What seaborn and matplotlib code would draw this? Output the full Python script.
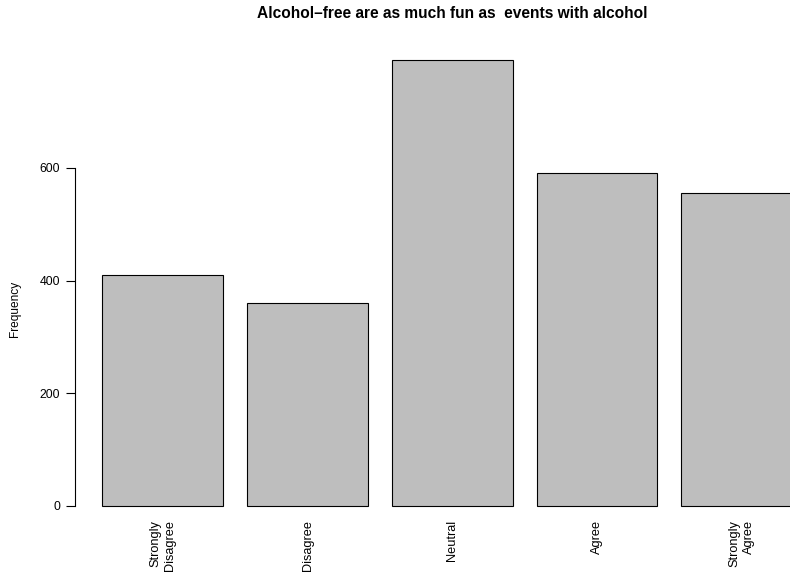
import matplotlib
matplotlib.use("Agg")
import matplotlib.pyplot as plt
import seaborn as sns

# Survey answers and their counts
categories = ["Strongly\nDisagree", "Disagree", "Neutral", "Agree", "Strongly\nAgree"]
counts = [410, 360, 791, 591, 555]
yticks = [0, 200, 400, 600]

sns.set_style("white")
plt.rcParams["font.family"] = ["Liberation Sans", "DejaVu Sans"]
plt.rcParams["text.color"] = "black"
plt.rcParams["xtick.color"] = "black"
plt.rcParams["ytick.color"] = "black"

fig = plt.figure(figsize=(7.9, 5.84), dpi=100)
# plot region in pixels: x 74.5..830, y 42..523.8 (R style, runs off the right edge)
ax = fig.add_axes([74.5 / 790, (584 - 523.8) / 584, (830 - 74.5) / 790, (523.8 - 42) / 584])

sns.barplot(x=categories, y=counts, color="#bebebe", saturation=1,
            edgecolor="black", linewidth=0.8, width=1 / 1.2, ax=ax)

ax.set_xlim(-0.61, 4.61)
ax.set_ylim(-31.7, 823.7)

for side in ["top", "right", "bottom"]:
    ax.spines[side].set_visible(False)
ax.spines["left"].set_bounds(0, 600)
ax.spines["left"].set_linewidth(0.8)
ax.spines["left"].set_color("black")

ax.set_yticks(yticks)
ax.tick_params(axis="y", length=6.5, width=0.8, pad=4, labelsize=8.8, left=True)
ax.tick_params(axis="x", length=0, pad=-2.5, labelsize=9.2)
for lab in ax.get_xticklabels():
    lab.set_rotation(90)
    lab.set_multialignment("right")

ax.set_xlabel("")
ax.set_ylabel("")
fig.text(15 / 790, 1 - 309 / 584, "Frequency", rotation=90, ha="center", va="center", fontsize=8.6)
fig.text(452 / 790, 1 - 13 / 584, "Alcohol\u2013free are as much fun as  events with alcohol",
         ha="center", va="center", fontsize=11.2, fontweight="bold")

fig.savefig("out.png", dpi=100)
